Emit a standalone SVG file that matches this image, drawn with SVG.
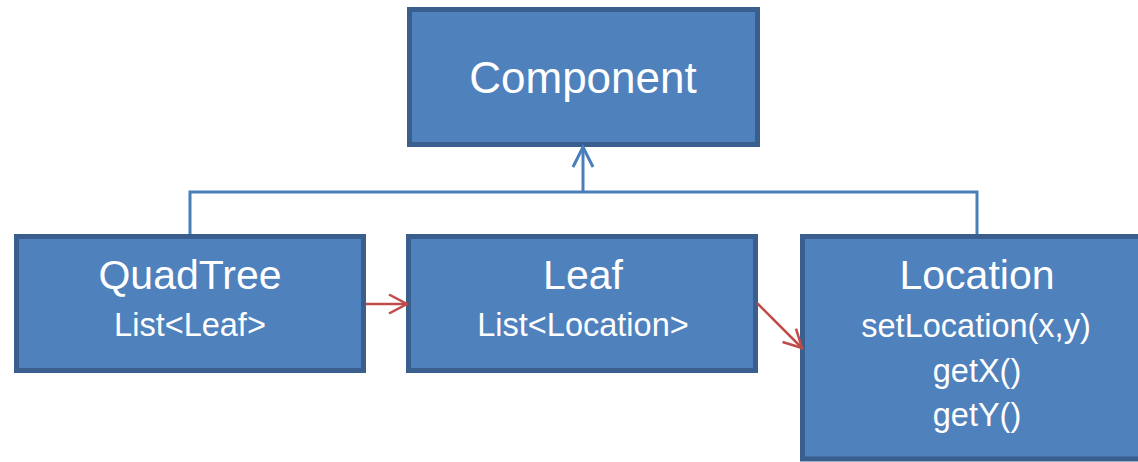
<svg xmlns="http://www.w3.org/2000/svg" width="1138" height="462" viewBox="0 0 1138 462">
<style>
.box{fill:#4f81bd;stroke:#3a5f8e;stroke-width:5}
text{font-family:"Liberation Sans",Arial,sans-serif;fill:#ffffff;text-anchor:middle}
.t1{font-size:44px}
.t2{font-size:41px}
.t3{font-size:32.5px}
.blue{fill:none;stroke:#4a7ebb;stroke-width:3}
.red{fill:none;stroke:#be4b48;stroke-width:2.5}
</style>
<defs>
<marker id="ab" markerUnits="userSpaceOnUse" viewBox="-24 -14 28 28" markerWidth="28" markerHeight="28" refX="0" refY="0" orient="auto" overflow="visible">
<path d="M-20,-10 L0,0 L-20,10" fill="none" stroke="#4a7ebb" stroke-width="3"/>
</marker>
<marker id="ar" markerUnits="userSpaceOnUse" viewBox="-24 -14 28 28" markerWidth="28" markerHeight="28" refX="0" refY="0" orient="auto" overflow="visible">
<path d="M-18,-9.5 L0,0 L-18,9.5" fill="none" stroke="#be4b48" stroke-width="2.5"/>
</marker>
</defs>
<rect width="1138" height="462" fill="#ffffff"/>
<g id="component">
<rect class="box" x="409.5" y="9.5" width="348" height="135"/>
<text class="t1" x="583" y="93">Component</text>
</g>
<g id="quadtree">
<rect class="box" x="16.5" y="236.5" width="347" height="134"/>
<text class="t2" x="190" y="289">QuadTree</text>
<text class="t3" x="190" y="336">List&lt;Leaf&gt;</text>
</g>
<g id="leaf">
<rect class="box" x="408.5" y="236.5" width="347" height="134"/>
<text class="t2" x="583" y="289">Leaf</text>
<text class="t3" x="583" y="336">List&lt;Location&gt;</text>
</g>
<g id="location">
<rect class="box" x="802.5" y="236.5" width="345" height="222.5"/>
<text class="t2" x="977" y="289">Location</text>
<text class="t3" x="976" y="337">setLocation(x,y)</text>
<text class="t3" x="977" y="382">getX()</text>
<text class="t3" x="977" y="426">getY()</text>
</g>
<g id="connectors">
<path class="blue" d="M190,234 V192 H977 V234"/>
<path class="blue" d="M583,192 V147" marker-end="url(#ab)"/>
<path class="red" d="M366,304 H407" marker-end="url(#ar)"/>
<path class="red" d="M757,303 L802,348" marker-end="url(#ar)"/>
</g>
</svg>
